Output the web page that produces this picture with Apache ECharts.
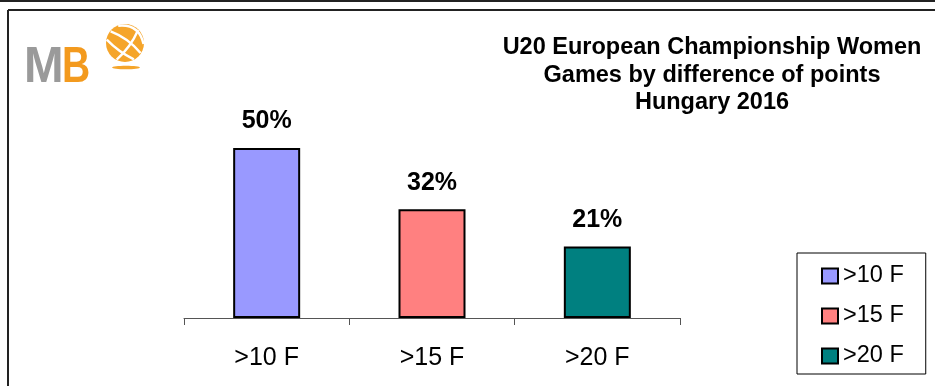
<!DOCTYPE html>
<html>
<head>
<meta charset="utf-8">
<script src="https://cdn.jsdelivr.net/npm/echarts@6/dist/echarts.min.js"></script>
<style>
  html, body { margin: 0; padding: 0; background: #fff; }
  #chart { width: 935px; height: 386px; }
</style>
</head>
<body>
<div id="chart"></div>
<script>
// Share of games by winning margin
const categories = ['>10 F', '>15 F', '>20 F'];
const seriesNames = ['>10 F', '>15 F', '>20 F'];
const percentValues = [50, 32, 21];
const titleLines = ['U20 European Championship Women', 'Games by difference of points', 'Hungary 2016'];

const colors = ['#9999ff', '#ff8080', '#008080'];
const FONT = '"Liberation Sans", Arial, Helvetica, sans-serif';

// one series per category so each gets its own legend entry
const series = seriesNames.map((name, i) => ({
  name: name,
  type: 'bar',
  barWidth: 67,
  barGap: '-100%',
  data: categories.map((c, j) => (j === i ? percentValues[i] : null)),
  itemStyle: { color: colors[i], borderColor: '#000', borderWidth: 2 },
  label: {
    show: true,
    position: 'top',
    distance: 14,
    formatter: '{c}%',
    color: '#000',
    fontFamily: FONT,
    fontWeight: 'bold',
    fontSize: 25
  },
  emphasis: { disabled: true }
}));

// logo: basketball stripes as chords of the ball
const ballC = [125, 43], ballR = 19;
function chord(dir, off, bend) {
  const d = [Math.cos(dir), Math.sin(dir)];
  const n = [-d[1], d[0]];
  const L = Math.sqrt(Math.max(ballR * ballR - off * off, 0)) - 0.5;
  const mx = ballC[0] + off * n[0], my = ballC[1] + off * n[1];
  return {
    type: 'bezierCurve',
    shape: {
      x1: mx - L * d[0], y1: my - L * d[1],
      x2: mx + L * d[0], y2: my + L * d[1],
      cpx1: mx + bend * n[0], cpy1: my + bend * n[1]
    },
    style: { stroke: '#fff', lineWidth: 2.4, fill: null },
    silent: true
  };
}
const stripeDir = Math.PI * 0.2;
const ballStripes = [
  chord(stripeDir, -10, -14),
  chord(stripeDir, -1, -5),
  chord(stripeDir, 8, 3),
  chord(-Math.PI * 0.3, 3, 4)
];

const chart = echarts.init(document.getElementById('chart'), null, { renderer: 'canvas' });
chart.setOption({
  animation: false,
  backgroundColor: '#fff',
  textStyle: { fontFamily: FONT },
  grid: { left: 184, right: 255, top: 114, bottom: 68 },
  xAxis: {
    type: 'category',
    data: categories,
    boundaryGap: true,
    axisLine: { show: true, lineStyle: { color: '#555', width: 1 } },
    axisTick: { show: true, length: 7, alignWithLabel: false, lineStyle: { color: '#555' } },
    axisLabel: { color: '#000', fontFamily: FONT, fontSize: 25, margin: 28 }
  },
  yAxis: {
    type: 'value',
    min: 0,
    max: 60,
    show: false,
    splitLine: { show: false }
  },
  legend: {
    orient: 'vertical',
    left: 797,
    top: 253,
    width: 128,
    padding: [11, 22, 6, 24],
    itemGap: 16,
    itemWidth: 16,
    itemHeight: 15,
    borderColor: '#000',
    borderWidth: 1,
    data: seriesNames,
    icon: 'rect',
    itemStyle: { borderColor: '#000', borderWidth: 2 },
    textStyle: { color: '#000', fontFamily: FONT, fontSize: 23.5, padding: [0, 0, 0, 0] },
    selectedMode: false
  },
  series: series,
  graphic: [
    // outer frame lines
    { type: 'line', shape: { x1: 0, y1: 1, x2: 935, y2: 1 }, style: { stroke: '#222', lineWidth: 2 }, silent: true },
    { type: 'line', shape: { x1: 8, y1: 10, x2: 935, y2: 10 }, style: { stroke: '#222', lineWidth: 2 }, silent: true },
    { type: 'line', shape: { x1: 8, y1: 10, x2: 8, y2: 386 }, style: { stroke: '#222', lineWidth: 2 }, silent: true },
    // title block
    {
      type: 'text',
      x: 712,
      y: 34,
      style: {
        text: titleLines.join('\n'),
        align: 'center',
        verticalAlign: 'top',
        fill: '#000',
        font: 'bold 23.5px ' + FONT,
        lineHeight: 27.5
      },
      silent: true
    },
    // logo
    {
      type: 'text', x: 24, y: 43, scaleX: 0.95,
      style: { text: 'M', font: 'bold 50px ' + FONT, fill: '#9a9a9a', verticalAlign: 'top' },
      silent: true
    },
    {
      type: 'text', x: 62, y: 43, scaleX: 0.78,
      style: { text: 'B', font: 'bold 50px ' + FONT, fill: '#f39a1e', verticalAlign: 'top' },
      silent: true
    },
    { type: 'circle', shape: { cx: ballC[0], cy: ballC[1], r: ballR }, style: { fill: '#f5a52a' }, silent: true },
    ...ballStripes,
    { type: 'ellipse', shape: { cx: 126, cy: 67.5, rx: 14, ry: 1.8 }, style: { fill: '#f5a52a' }, silent: true }
  ]
});
</script>
</body>
</html>
